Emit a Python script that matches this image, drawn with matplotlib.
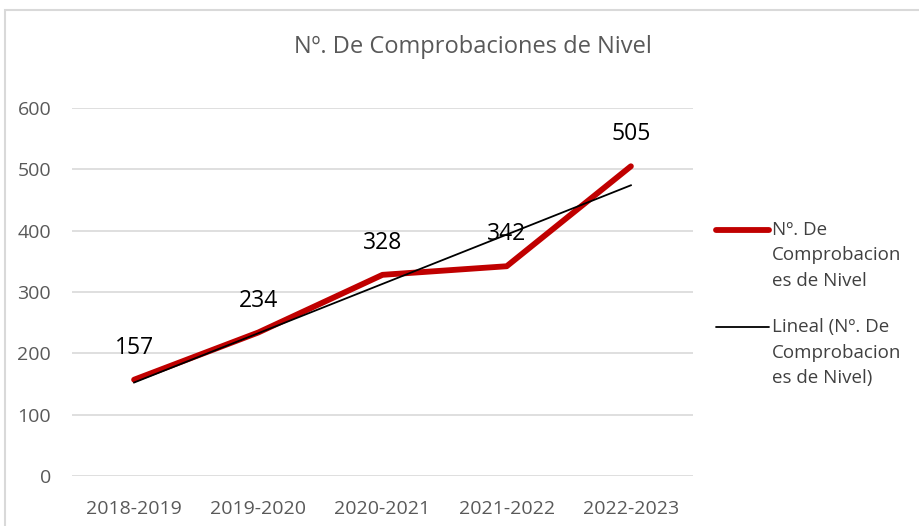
import matplotlib.pyplot as plt
import numpy as np
from matplotlib.patches import Rectangle
from matplotlib.lines import Line2D

plt.rcParams['font.family'] = ['Open Sans', 'DejaVu Sans']

years = ['2018-2019', '2019-2020', '2020-2021', '2021-2022', '2022-2023']
comprobaciones = [157, 234, 328, 342, 505]
serie = ['Nº. De', 'Comprobacion', 'es de Nivel']
serie_lineal = ['Lineal (Nº. De', 'Comprobacion', 'es de Nivel)']

fig = plt.figure(figsize=(9.2, 5.26), dpi=100)
# outer chart border
fig.patches.append(Rectangle((5 / 920, -0.2), 1.2, 1.2 - 10 / 526, transform=fig.transFigure,
                             fill=False, edgecolor='#d9d9d9', linewidth=1.5))
ax = fig.add_axes([72 / 920, 1 - 476 / 526, (693 - 72) / 920, (476 - 108) / 526])

x = np.arange(len(years))
ax.plot(x, comprobaciones, color='#c00000', linewidth=4.2, solid_capstyle='round', zorder=3)

# linear trend line
coef = np.polyfit(x, comprobaciones, 1)
ax.plot(x, np.polyval(coef, x), color='black', linewidth=1.3, zorder=4)

for xi, v in zip(x, comprobaciones):
    ax.annotate(str(v), (xi, v), xytext=(0, 23), textcoords='offset points',
                ha='center', va='center', fontsize=16.5, color='black', zorder=5)

ax.set_xlim(-0.5, len(years) - 0.5)
ax.set_ylim(0, 600)
ax.set_yticks(range(0, 601, 100))
ax.set_xticks(x)
ax.set_xticklabels(years)
ax.grid(axis='y', color='#d9d9d9', linewidth=1.2)
ax.set_axisbelow(True)
for s in ax.spines.values():
    s.set_visible(False)
ax.tick_params(length=0, labelsize=14, labelcolor='#595959')
ax.tick_params(axis='y', pad=15)
ax.tick_params(axis='x', pad=17)

fig.text(473 / 920, 1 - 47 / 526, 'Nº. De Comprobaciones de Nivel', ha='center', va='center',
         fontsize=17, color='#595959')

# legend drawn by hand so the key sits on the first text line
def legend_entry(y_px, color, lw, lines):
    y = 1 - y_px / 526
    fig.lines.append(Line2D([716 / 920, 769 / 920], [y, y], transform=fig.transFigure,
                            color=color, linewidth=lw, solid_capstyle='round'))
    for i, t in enumerate(lines):
        fig.text(772 / 920, 1 - (y_px + i * 25.5) / 526, t, ha='left', va='center',
                 fontsize=13.5, color='#404040')

legend_entry(230, '#c00000', 4.2, serie)
legend_entry(327, 'black', 1.3, serie_lineal)

fig.savefig('out.png', dpi=100)
